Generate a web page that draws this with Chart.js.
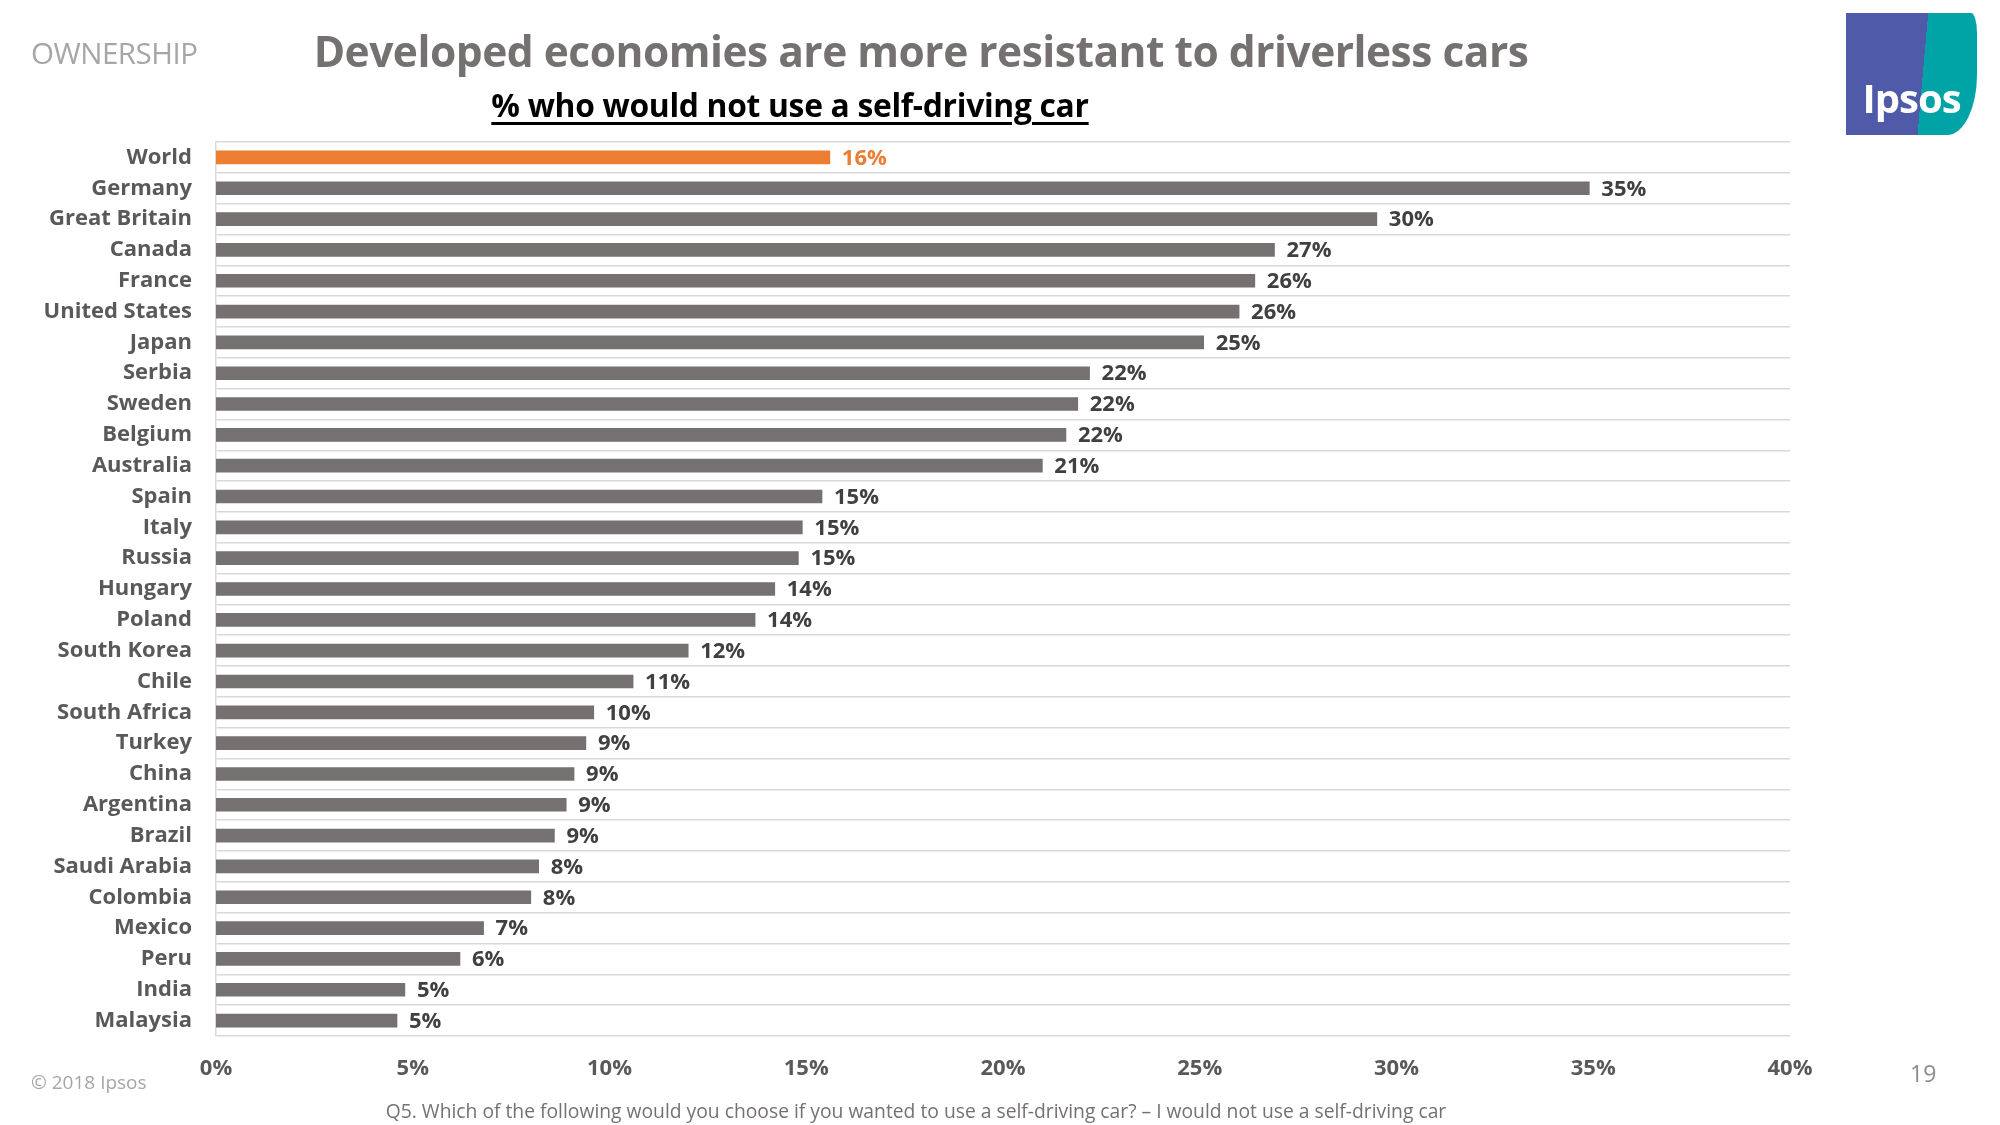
<!DOCTYPE html>
<html>
<head>
<meta charset="utf-8">
<script src="https://cdn.jsdelivr.net/npm/chart.js@4.4.1/dist/chart.umd.min.js"></script>
<style>
  body { margin: 0; background: #fff; }
  #wrap { position: relative; width: 2000px; height: 1125px; overflow: hidden; font-family: "Open Sans", sans-serif; }
  #chart { position: absolute; left: 0; top: 0; }
  .ownership { position: absolute; left: 31px; top: 32px; font-size: 29.5px; color: #a6a6a6; letter-spacing: -0.5px; }
  .title { position: absolute; left: 0; width: 1842px; top: 22px; text-align: center; font-size: 42.5px; font-weight: bold; color: #767171; letter-spacing: -0.5px; }
  .subtitle { position: absolute; left: 0; width: 1580px; top: 83px; text-align: center; font-size: 31.8px; font-weight: bold; color: #000; text-decoration: underline; text-decoration-thickness: 3px; text-underline-offset: 5px; letter-spacing: -0.3px; }
  .logo { position: absolute; left: 1846px; top: 13px; width: 131px; height: 122px; background: linear-gradient(95deg, #4f5aa8 0 58%, #00a3a6 58% 100%); border-radius: 0 6px 30px 0 / 0 20px 60px 0; }
  .logo span { position: absolute; left: 0; width: 131px; bottom: 10px; text-align: center; color: #fff; font-weight: bold; font-size: 40px; letter-spacing: -1px; }
  .copy { position: absolute; left: 31px; top: 1069px; font-size: 19px; color: #a6a6a6; }
  .page { position: absolute; left: 1910px; top: 1057px; font-size: 23px; color: #8c8c8c; }
  .note { position: absolute; left: 0; width: 1832px; top: 1097px; text-align: center; font-size: 19.3px; color: #767171; }
</style>
</head>
<body>
<div id="wrap">
  <canvas id="chart" width="2000" height="1125"></canvas>
  <div class="ownership">OWNERSHIP</div>
  <div class="title">Developed economies are more resistant to driverless cars</div>
  <div class="subtitle">% who would not use a self-driving car</div>
  <div class="logo"><span>Ipsos</span></div>
  <div class="copy">© 2018 Ipsos</div>
  <div class="page">19</div>
  <div class="note">Q5. Which of the following would you choose if you wanted to use a self-driving car? – I would not use a self-driving car</div>
</div>
<script>
const salys = [
  'World', 'Germany', 'Great Britain', 'Canada', 'France', 'United States', 'Japan',
  'Serbia', 'Sweden', 'Belgium', 'Australia', 'Spain', 'Italy', 'Russia', 'Hungary',
  'Poland', 'South Korea', 'Chile', 'South Africa', 'Turkey', 'China', 'Argentina',
  'Brazil', 'Saudi Arabia', 'Colombia', 'Mexico', 'Peru', 'India', 'Malaysia'
];
const reiksmes = [
  15.6, 34.9, 29.5, 26.9, 26.4, 26.0, 25.1,
  22.2, 21.9, 21.6, 21.0, 15.4, 14.9, 14.8, 14.2,
  13.7, 12.0, 10.6, 9.6, 9.4, 9.1, 8.9,
  8.6, 8.2, 8.0, 6.8, 6.2, 4.8, 4.6
];
const xTickai = [0, 5, 10, 15, 20, 25, 30, 35, 40];

const oranzine = '#ed7d31';
const pilka = '#767171';
const spalvos = salys.map((s, i) => i === 0 ? oranzine : pilka);

// etiketes salia stulpeliu
const etiketes = {
  id: 'etiketes',
  afterDatasetsDraw(chart) {
    const ctx = chart.ctx;
    const meta = chart.getDatasetMeta(0);
    ctx.save();
    ctx.font = 'bold 22px "Open Sans"';
    ctx.textBaseline = 'middle';
    ctx.textAlign = 'left';
    meta.data.forEach((bar, i) => {
      ctx.fillStyle = i === 0 ? oranzine : '#404040';
      ctx.fillText(Math.round(reiksmes[i]) + '%', bar.x + 12, bar.y + 1);
    });
    ctx.restore();
  }
};

new Chart(document.getElementById('chart'), {
  type: 'bar',
  data: {
    labels: salys,
    datasets: [{
      data: reiksmes,
      backgroundColor: spalvos,
      barThickness: 13
    }]
  },
  options: {
    indexAxis: 'y',
    responsive: false,
    animation: false,
    layout: { padding: { top: 142, right: 210, bottom: 29, left: 0 } },
    plugins: {
      legend: { display: false },
      tooltip: { enabled: false }
    },
    scales: {
      x: {
        min: xTickai[0],
        max: xTickai[xTickai.length - 1],
        afterBuildTicks: (scale) => { scale.ticks = xTickai.map(v => ({ value: v })); },
        afterFit: (scale) => { scale.height = 60; },
        grid: { display: false, drawTicks: false },
        border: { display: false },
        ticks: {
          padding: 20,
          color: '#595959',
          font: { family: 'Open Sans', size: 22, weight: 'bold' },
          callback: (v) => v + '%'
        }
      },
      y: {
        afterFit: (scale) => { scale.width = 216; },
        grid: { color: '#d9d9d9', lineWidth: 1.5, drawTicks: false, offset: true },
        border: { display: true, color: '#d9d9d9', width: 1.5 },
        ticks: {
          padding: 24,
          color: '#595959',
          font: { family: 'Open Sans', size: 22, weight: 'bold' }
        }
      }
    }
  },
  plugins: [etiketes]
});
</script>
</body>
</html>
